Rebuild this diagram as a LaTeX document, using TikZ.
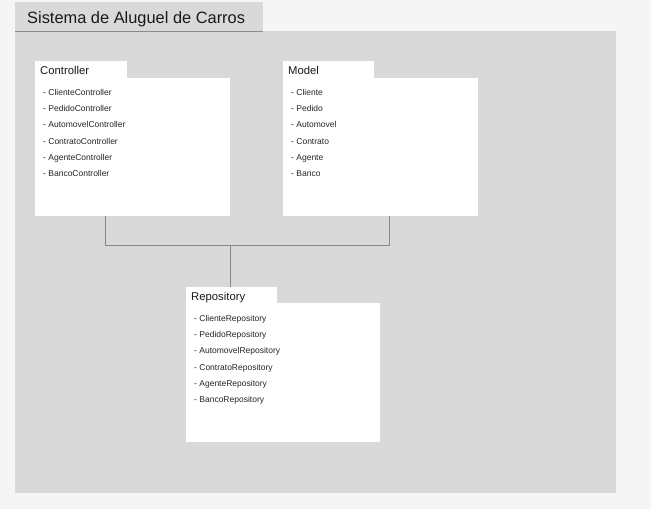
\documentclass[tikz,border=0pt]{standalone}
\usepackage{fontspec}
\setmainfont{Liberation Sans}
\definecolor{pagebg}{HTML}{F5F5F5}
\definecolor{panelbg}{HTML}{D9D9D9}
\definecolor{linegray}{HTML}{888888}
\tikzset{
  box/.style={fill=white, draw=none, anchor=north west, inner sep=0pt},
  tabtext/.style={anchor=base west, inner sep=0pt, font=\fontsize{11.3}{13}\selectfont, text=black!90},
  item/.style={anchor=base west, inner sep=0pt, font=\fontsize{8.5}{10}\selectfont, text=black!85},
  conn/.style={draw=linegray, line width=0.8pt},
}
\begin{document}
\begin{tikzpicture}[x=1pt,y=-1pt]
\useasboundingbox (0,0) rectangle (651,509);
\fill[pagebg] (0,0) rectangle (651,509);
% title tab and panel
\fill[panelbg] (15,2) rectangle (263,31);
\fill[panelbg] (15,31) rectangle (616,493);
\draw[draw=black!45, line width=0.6pt] (15,31) -- (263,31);
\node[anchor=base west, inner sep=0pt, font=\fontsize{16.4}{19}\selectfont, text=black!90] (title) at (27,23.5) {Sistema de Aluguel de Carros};
% Controller
\node[box, minimum width=195pt, minimum height=138pt] (ctrl) at (35,78) {};
\node[box, minimum width=92pt, minimum height=17.5pt] (ctrltab) at (35,61) {};
\node[tabtext] (ctrlh) at (40,74) {Controller};
\node[item] (c1) at (43,95.2) {- ClienteController};
\node[item] (c2) at (43,111.5) {- PedidoController};
\node[item] (c3) at (43,127.9) {- AutomovelController};
\node[item] (c4) at (43,144.2) {- ContratoController};
\node[item] (c5) at (43,160.5) {- AgenteController};
\node[item] (c6) at (43,176.9) {- BancoController};
% Model
\node[box, minimum width=195pt, minimum height=138pt] (model) at (283,78) {};
\node[box, minimum width=91pt, minimum height=17.5pt] (modeltab) at (283,61) {};
\node[tabtext] (modelh) at (288,74) {Model};
\node[item] (m1) at (291,95.2) {- Cliente};
\node[item] (m2) at (291,111.5) {- Pedido};
\node[item] (m3) at (291,127.9) {- Automovel};
\node[item] (m4) at (291,144.2) {- Contrato};
\node[item] (m5) at (291,160.5) {- Agente};
\node[item] (m6) at (291,176.9) {- Banco};
% Repository
\node[box, minimum width=194pt, minimum height=139pt] (repo) at (186,303) {};
\node[box, minimum width=91pt, minimum height=16.5pt] (repotab) at (186,287) {};
\node[tabtext] (repoh) at (191,300) {Repository};
\node[item] (r1) at (194,321.2) {- ClienteRepository};
\node[item] (r2) at (194,337.5) {- PedidoRepository};
\node[item] (r3) at (194,353.9) {- AutomovelRepository};
\node[item] (r4) at (194,370.2) {- ContratoRepository};
\node[item] (r5) at (194,386.5) {- AgenteRepository};
\node[item] (r6) at (194,402.9) {- BancoRepository};
% connectors
\coordinate (j) at (230.5,245.5);
\draw[conn] ([xshift=70pt]ctrl.south west) |- (j) -| ([xshift=106pt]model.south west);
\draw[conn] (j) -- ([xshift=44.5pt]repotab.north west);
\end{tikzpicture}
\end{document}
